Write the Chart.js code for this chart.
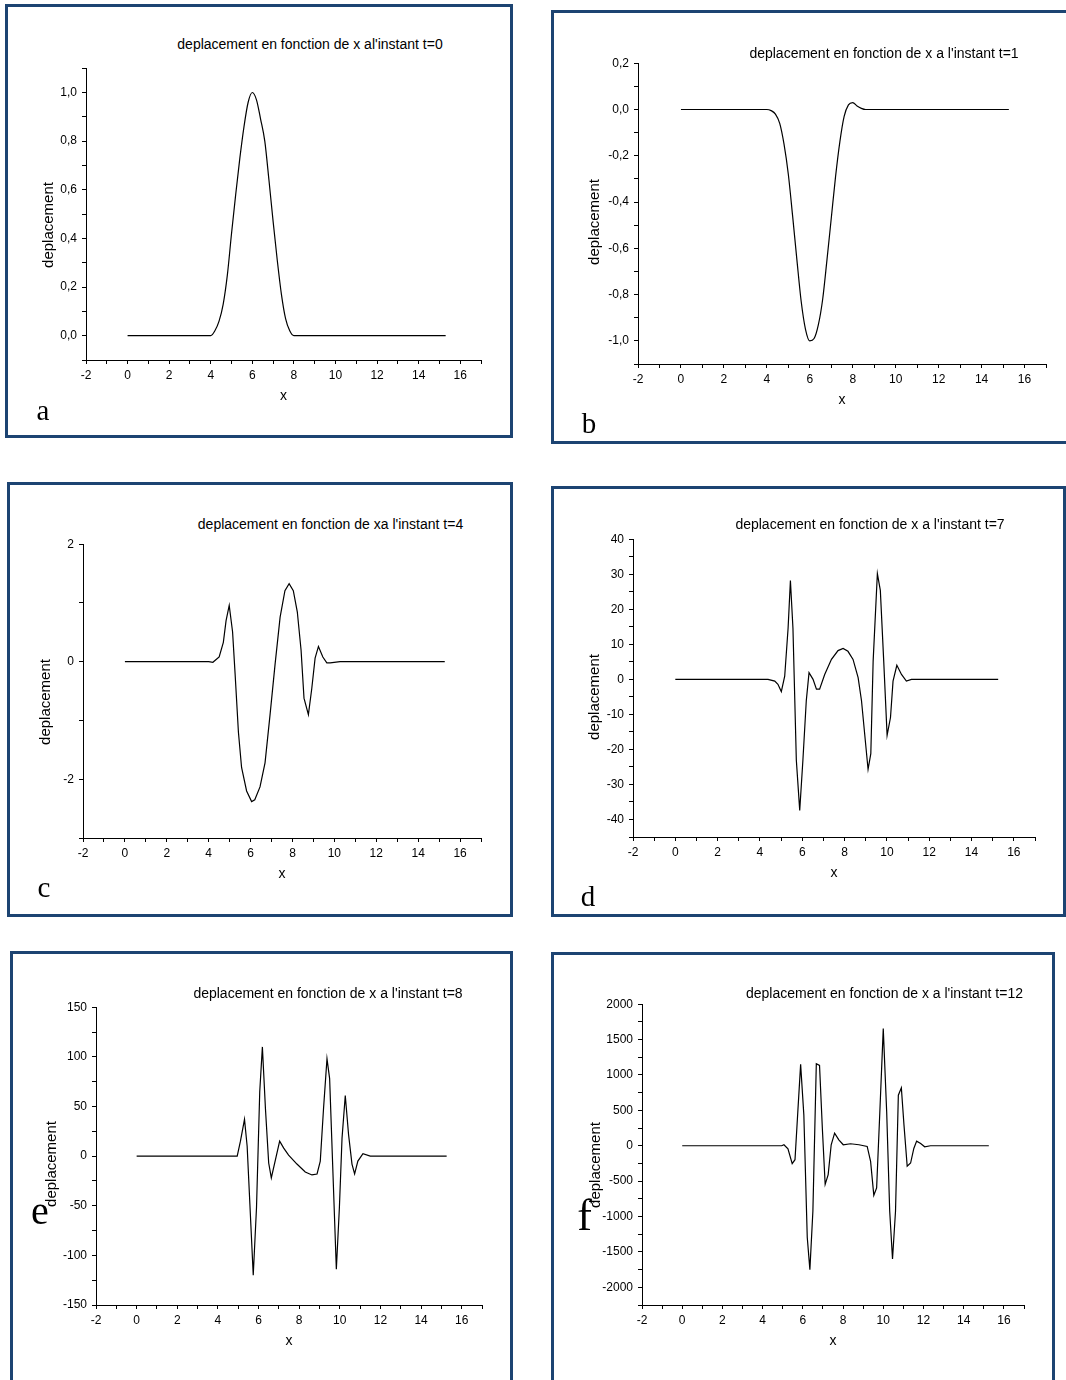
<!DOCTYPE html>
<html lang="fr">
<head>
<meta charset="utf-8">
<title>deplacement en fonction de x</title>
<script src="https://cdn.jsdelivr.net/npm/chart.js@4.4.1/dist/chart.umd.min.js"></script>
<style>
  html, body { margin: 0; padding: 0; background: #fff; }
  #page { position: relative; width: 1066px; height: 1380px; overflow: hidden; font-family: "Liberation Sans", Arial, sans-serif; }
  .box { position: absolute; box-sizing: border-box; border: 3px solid #1d4472; }
  .plot { position: absolute; }
  .txt { position: absolute; white-space: nowrap; line-height: 1; color: #000; transform: translate(-50%, -50%); }
  .title { font-size: 14px; }
  .ylab { font-size: 15px; transform: translate(-50%, -50%) rotate(-90deg); }
  .letter { font-family: "Liberation Serif", "Times New Roman", serif; }
</style>
</head>
<body>
<div id="page">
  <div class="box" style="left:5px; top:4px; width:508px; height:434px;"></div>
  <div class="box" style="left:551px; top:10px; width:520px; height:434px;"></div>
  <div class="box" style="left:7px; top:482px; width:506px; height:435px;"></div>
  <div class="box" style="left:551px; top:486px; width:515px; height:431px;"></div>
  <div class="box" style="left:10px; top:951px; width:503px; height:445px;"></div>
  <div class="box" style="left:551px; top:952px; width:504px; height:445px;"></div>

  <canvas id="chartA" class="plot"></canvas>
  <canvas id="chartB" class="plot"></canvas>
  <canvas id="chartC" class="plot"></canvas>
  <canvas id="chartD" class="plot"></canvas>
  <canvas id="chartE" class="plot"></canvas>
  <canvas id="chartF" class="plot"></canvas>

  <div class="txt title" style="left:310px; top:43.5px;">deplacement en fonction de x al'instant t=0</div>
  <div class="txt title" style="left:884px; top:53px;">deplacement en fonction de x a l'instant t=1</div>
  <div class="txt title" style="left:330.5px; top:523.5px;">deplacement en fonction de xa l'instant t=4</div>
  <div class="txt title" style="left:870px; top:524px;">deplacement en fonction de x a l'instant t=7</div>
  <div class="txt title" style="left:328px; top:993px;">deplacement en fonction de x a l'instant t=8</div>
  <div class="txt title" style="left:884.5px; top:993px;">deplacement en fonction de x a l'instant t=12</div>

  <div class="txt ylab" style="left:47px; top:225px;">deplacement</div>
  <div class="txt ylab" style="left:593px; top:222px;">deplacement</div>
  <div class="txt ylab" style="left:44px; top:702px;">deplacement</div>
  <div class="txt ylab" style="left:593px; top:697px;">deplacement</div>
  <div class="txt ylab" style="left:49.5px; top:1164px;">deplacement</div>
  <div class="txt ylab" style="left:594px; top:1165px;">deplacement</div>

  <div class="txt letter" style="left:43px; top:410px; font-size:29px;">a</div>
  <div class="txt letter" style="left:589px; top:422.5px; font-size:29px;">b</div>
  <div class="txt letter" style="left:44px; top:887px; font-size:29px;">c</div>
  <div class="txt letter" style="left:588px; top:895.5px; font-size:29px;">d</div>
  <div class="txt letter" style="left:40px; top:1211px; font-size:40px;">e</div>
  <div class="txt letter" style="left:584.5px; top:1216px; font-size:44px;">f</div>
</div>

<script>
// valeurs (x, deplacement)
const xA = [0, 4.0, 4.2, 4.4, 4.6, 4.8, 5.0, 5.2, 5.4, 5.6, 5.8, 6.0, 6.2, 6.4, 6.6, 6.8, 7.0, 7.2, 7.4, 7.6, 7.8, 8.0, 15.3];
const deplA = [0, 0, 0.02, 0.06, 0.13, 0.25, 0.42, 0.58, 0.73, 0.86, 0.96, 1.0, 0.97, 0.89, 0.8, 0.64, 0.47, 0.31, 0.17, 0.07, 0.02, 0, 0];

const xB = [0, 4.0, 4.2, 4.4, 4.6, 4.8, 5.0, 5.2, 5.4, 5.6, 5.8, 6.0, 6.2, 6.4, 6.6, 6.8, 7.0, 7.2, 7.4, 7.6, 7.8, 8.0, 8.2, 8.4, 8.6, 15.27];
const deplB = [0, 0, -0.005, -0.02, -0.06, -0.15, -0.28, -0.46, -0.65, -0.83, -0.95, -1.0, -0.99, -0.93, -0.82, -0.65, -0.47, -0.29, -0.14, -0.03, 0.02, 0.03, 0.015, 0.005, 0, 0];

const xC = [0, 4.0, 4.2, 4.5, 4.7, 4.83, 4.98, 5.14, 5.26, 5.42, 5.57, 5.81, 6.05, 6.2, 6.45, 6.69, 6.93, 7.17, 7.41, 7.64, 7.84, 8.04, 8.23, 8.41, 8.55, 8.76, 8.92, 9.08, 9.24, 9.45, 9.64, 9.8, 10.27, 15.27];
const deplC = [0, 0, -0.01, 0.08, 0.33, 0.7, 0.96, 0.51, -0.2, -1.2, -1.8, -2.2, -2.38, -2.35, -2.13, -1.72, -0.9, -0.04, 0.76, 1.21, 1.33, 1.21, 0.85, 0.2, -0.62, -0.9, -0.46, 0.06, 0.26, 0.08, -0.02, -0.02, 0, 0];

const xD = [0, 4.38, 4.70, 4.85, 5.01, 5.17, 5.33, 5.44, 5.56, 5.72, 5.88, 6.03, 6.19, 6.32, 6.51, 6.67, 6.82, 7.06, 7.38, 7.69, 7.93, 8.16, 8.40, 8.64, 8.80, 8.95, 9.11, 9.24, 9.35, 9.55, 9.69, 9.85, 10.01, 10.17, 10.29, 10.47, 10.69, 10.92, 11.16, 15.26];
const deplD = [0, 0, -0.5, -1.4, -3.5, 0.9, 14.6, 28.2, 14.6, -23.1, -37.4, -23.1, -6.1, 1.9, 0, -2.8, -2.8, 1.4, 5.7, 8.2, 8.8, 8.0, 5.7, 0.5, -6.1, -15.6, -25.7, -21.2, 5.2, 30.2, 25.4, 5.2, -16.0, -10.9, -0.5, 4.0, 1.4, -0.5, 0, 0];

const xE = [0, 4.95, 5.11, 5.31, 5.44, 5.74, 5.90, 6.06, 6.19, 6.34, 6.50, 6.63, 7.04, 7.24, 7.48, 7.89, 8.30, 8.63, 8.88, 9.04, 9.20, 9.37, 9.50, 9.83, 9.98, 10.11, 10.27, 10.43, 10.60, 10.73, 10.89, 11.14, 11.5, 15.26];
const deplE = [0, 0, 15, 37, 10, -120, -52, 65, 110, 48, -7, -22, 15, 8, 1, -8, -16, -19, -18, -5, 48, 98, 78, -114, -52, 18, 61, 22, -8, -18, -5, 2.5, 0, 0];

const xF = [0, 4.95, 5.06, 5.26, 5.47, 5.61, 5.75, 5.89, 6.05, 6.22, 6.35, 6.50, 6.67, 6.83, 6.97, 7.11, 7.26, 7.41, 7.58, 7.79, 8.01, 8.37, 8.79, 9.20, 9.37, 9.53, 9.67, 9.83, 10.0, 10.17, 10.32, 10.46, 10.61, 10.75, 10.90, 11.03, 11.19, 11.36, 11.52, 11.66, 11.86, 12.06, 12.35, 15.25];
const deplF = [0, 0, 14, -42, -253, -197, 481, 1150, 435, -1296, -1750, -922, 1160, 1136, 247, -545, -407, 14, 178, 84, 14, 28, 14, -9, -220, -700, -595, 481, 1655, 481, -922, -1600, -922, 715, 818, 295, -290, -244, -38, 65, 32, -14, 0, 0];

// graduations portant une etiquette
const xTickLabels = [-2, 0, 2, 4, 6, 8, 10, 12, 14, 16];
const yTickLabelsA = [0, 0.2, 0.4, 0.6, 0.8, 1.0];
const yTickLabelsB = [-1.0, -0.8, -0.6, -0.4, -0.2, 0, 0.2];
const yTickLabelsC = [-2, 0, 2];
const yTickLabelsD = [-40, -30, -20, -10, 0, 10, 20, 30, 40];
const yTickLabelsE = [-150, -100, -50, 0, 50, 100, 150];
const yTickLabelsF = [-2000, -1500, -1000, -500, 0, 500, 1000, 1500, 2000];

const FONT = '"Liberation Sans", Arial, sans-serif';
const Y_W = 50;   // largeur reservee a l'axe y
const X_H = 45;   // hauteur reservee a l'axe x
const PAD = 10;

function hasLabel(list, v) {
  return list.some(t => Math.abs(t - v) < 1e-6);
}

// area = zone de trace en pixels de page [gauche, droite, haut, bas]
function drawPanel(id, area, xs, ys, yMin, yMax, yStep, yLabels, comma, smooth) {
  const canvas = document.getElementById(id);
  const w = area[1] - area[0] + Y_W + PAD;
  const h = area[3] - area[2] + PAD + X_H;
  canvas.width = w;
  canvas.height = h;
  canvas.style.left = (area[0] - Y_W) + 'px';
  canvas.style.top = (area[2] - PAD) + 'px';
  canvas.style.width = w + 'px';
  canvas.style.height = h + 'px';

  new Chart(canvas, {
    type: 'line',
    data: {
      datasets: [{
        data: xs.map((x, i) => ({ x: x, y: ys[i] })),
        borderColor: '#000',
        borderWidth: 1.2,
        pointRadius: 0,
        fill: false,
        tension: 0,
        cubicInterpolationMode: smooth ? 'monotone' : 'default'
      }]
    },
    options: {
      responsive: false,
      animation: false,
      events: [],
      layout: { padding: { top: PAD, right: PAD, left: 0, bottom: 0 } },
      plugins: { legend: { display: false }, tooltip: { enabled: false } },
      scales: {
        x: {
          type: 'linear',
          min: -2,
          max: 17,
          afterFit: s => { s.height = X_H; },
          border: { display: true, color: '#000', width: 1 },
          grid: { drawOnChartArea: false, drawTicks: true, tickLength: 4, color: '#000', tickColor: '#000' },
          ticks: {
            stepSize: 1,
            autoSkip: false,
            maxRotation: 0,
            padding: 4,
            color: '#000',
            font: { family: FONT, size: 12 },
            callback: v => hasLabel(xTickLabels, v) ? String(v) : ''
          },
          title: { display: true, text: 'x', color: '#000', font: { family: FONT, size: 14 }, padding: { top: 0, bottom: 0 } }
        },
        y: {
          type: 'linear',
          min: yMin,
          max: yMax,
          afterFit: s => { s.width = Y_W; },
          border: { display: true, color: '#000', width: 1 },
          grid: { drawOnChartArea: false, drawTicks: true, tickLength: 4, color: '#000', tickColor: '#000' },
          ticks: {
            stepSize: yStep,
            autoSkip: false,
            padding: 5,
            color: '#000',
            font: { family: FONT, size: 12 },
            callback: v => {
              if (!hasLabel(yLabels, v)) return '';
              return comma ? v.toFixed(1).replace('.', ',') : String(Math.round(v));
            }
          }
        }
      }
    }
  });
}

drawPanel('chartA', [86, 481, 66, 360], xA, deplA, -0.1, 1.1, 0.1, yTickLabelsA, true, true);
drawPanel('chartB', [638, 1046, 61, 364], xB, deplB, -1.1, 0.2, 0.1, yTickLabelsB, true, true);
drawPanel('chartC', [83, 481, 542, 838], xC, deplC, -3, 2, 1, yTickLabelsC, false, false);
drawPanel('chartD', [633, 1035, 537, 837], xD, deplD, -45, 40, 5, yTickLabelsD, false, false);
drawPanel('chartE', [96, 482, 1005, 1305], xE, deplE, -150, 150, 25, yTickLabelsE, false, false);
drawPanel('chartF', [642, 1024, 1002, 1305], xF, deplF, -2250, 2000, 250, yTickLabelsF, false, false);
</script>
</body>
</html>
